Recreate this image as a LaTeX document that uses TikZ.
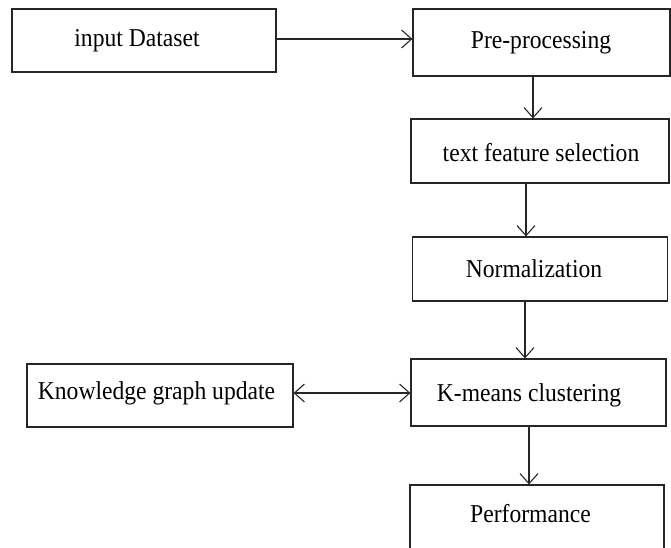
\documentclass[tikz,border=0pt]{standalone}
\usepackage{fontspec}
\usepackage{graphicx}
\setmainfont{Liberation Serif}
\usetikzlibrary{arrows.meta}
\newcommand{\tallt}[1]{\scalebox{1}[1.09]{#1}}
\tikzset{
  box/.style={draw=black!85, line width=1.2pt, rectangle, inner sep=0pt},
  txt/.style={anchor=base, inner sep=0pt, font=\fontsize{23.6}{26}\selectfont},
  arr/.style={draw=black!85, line width=1.1pt, -{Straight Barb[length=10pt,width=18pt,line width=1.1pt]}},
  darr/.style={draw=black!85, line width=1.1pt, {Straight Barb[length=10pt,width=18pt,line width=1.1pt]}-{Straight Barb[length=10pt,width=18pt,line width=1.1pt]}}
}
\begin{document}
\begin{tikzpicture}[x=1pt,y=-1pt]
\useasboundingbox (0,0) rectangle (671,548);
\clip (0,0) rectangle (671,548);
% boxes
\node[box, minimum width=264pt, minimum height=63pt] (input) at (144,40.5) {};
\node[box, minimum width=257pt, minimum height=67pt] (pre) at (541.5,42.5) {};
\node[box, minimum width=258pt, minimum height=64pt] (tfs) at (540,151) {};
\node[box, minimum width=255pt, minimum height=64pt] (norm) at (540,269) {};
\node[box, minimum width=255pt, minimum height=67pt] (km) at (538.5,392.5) {};
\node[box, minimum width=266pt, minimum height=63pt] (kg) at (160,395.5) {};
\node[box, minimum width=254pt, minimum height=90pt] (perf) at (537,530) {};
% texts
\node[txt] (inputT) at (137,47) {\tallt{input Dataset}};
\node[txt] (preT) at (541,48.5) {\tallt{Pre-processing}};
\node[txt] (tfsT) at (541,161) {\tallt{text feature selection}};
\node[txt] (normT) at (534,277) {\tallt{Normalization}};
\node[txt] (kmT) at (529,401.5) {\tallt{K-means clustering}};
\node[txt] (kgT) at (156.5,399) {\tallt{Knowledge graph update}};
\node[txt] (perfT) at (530.5,522.5) {\tallt{Performance}};
% connector guides
\coordinate (y1) at (0,39);
\coordinate (x1) at (533,0);
\coordinate (x2) at (526,0);
\coordinate (x3) at (525,0);
\coordinate (x4) at (529,0);
\coordinate (y2) at (0,393);
% connectors
\draw[arr] (input.east |- y1) -- (pre.west |- y1);
\draw[arr] (pre.south -| x1) -- (tfs.north -| x1);
\draw[arr] (tfs.south -| x2) -- (norm.north -| x2);
\draw[arr] (norm.south -| x3) -- (km.north -| x3);
\draw[arr] (km.south -| x4) -- (perf.north -| x4);
\draw[darr] (kg.east |- y2) -- (km.west |- y2);
\end{tikzpicture}
\end{document}
